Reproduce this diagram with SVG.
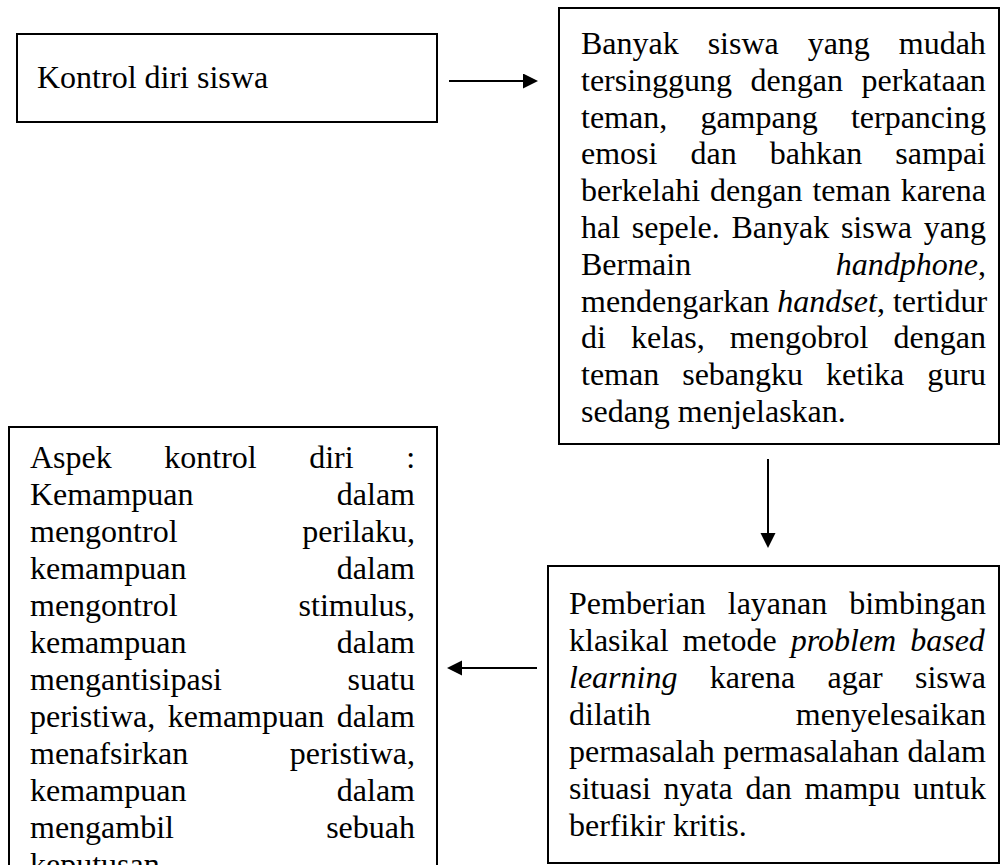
<svg xmlns="http://www.w3.org/2000/svg" width="1001" height="865" viewBox="0 0 1001 865">
<style>
.box{fill:#fff;stroke:#000;stroke-width:2}
.t{font-family:"Liberation Serif","Times New Roman",serif;font-size:32px;fill:#000}
.e{text-anchor:end}
.i{font-style:italic}
.c{stroke:#000;stroke-width:2;fill:none}
</style>
<defs>
<marker id="ah" markerUnits="userSpaceOnUse" markerWidth="16" markerHeight="16" refX="1" refY="7.5" orient="auto">
<path d="M0,0 L15,7.5 L0,15 Z" fill="#000"/>
</marker>
</defs>
<rect width="1001" height="865" fill="#fff"/>
<g id="node-kontrol">
<rect class="box" x="17" y="34" width="420" height="88"/>
<text class="t" x="37" y="88">Kontrol diri siswa</text>
</g>
<g id="node-masalah">
<rect class="box" x="559" y="8" width="440" height="436"/>
<text class="t" x="581" y="54" word-spacing="20.9">Banyak siswa yang mudah</text>
<text class="t" x="581" y="91" word-spacing="10.5">tersinggung dengan perkataan</text>
<text class="t" x="581" y="128" word-spacing="25.2">teman, gampang terpancing</text>
<text class="t" x="581" y="164" word-spacing="25.1">emosi dan bahkan sampai</text>
<text class="t" x="581" y="201" word-spacing="2">berkelahi dengan teman karena</text>
<text class="t" x="581" y="238" word-spacing="3.7">hal sepele. Banyak siswa yang</text>
<text class="t" x="581" y="275">Bermain</text>
<text class="t e" x="986" y="275"><tspan class="i">handphone</tspan>,</text>
<text class="t" x="581" y="312">mendengarkan <tspan class="i">handset</tspan>, tertidur</text>
<text class="t" x="581" y="348" word-spacing="17.1">di kelas, mengobrol dengan</text>
<text class="t" x="581" y="385" word-spacing="15">teman sebangku ketika guru</text>
<text class="t" x="581" y="422">sedang menjelaskan.</text>
</g>
<g id="node-layanan">
<rect class="box" x="548" y="566" width="451" height="297"/>
<text class="t" x="569" y="614" word-spacing="13.9">Pemberian layanan bimbingan</text>
<text class="t" x="569" y="651" word-spacing="6">klasikal metode <tspan class="i">problem based</tspan></text>
<text class="t" x="569" y="688" word-spacing="24.4"><tspan class="i">learning</tspan> karena agar siswa</text>
<text class="t" x="569" y="725">dilatih</text>
<text class="t e" x="986" y="725">menyelesaikan</text>
<text class="t" x="569" y="762" word-spacing="0.5">permasalah permasalahan dalam</text>
<text class="t" x="569" y="799" word-spacing="4.7">situasi nyata dan mampu untuk</text>
<text class="t" x="569" y="836">berfikir kritis.</text>
</g>
<g id="node-aspek">
<rect class="box" x="9" y="427" width="428" height="460"/>
<text class="t" x="30" y="468" word-spacing="44.5">Aspek kontrol diri :</text>
<text class="t" x="30" y="505">Kemampuan</text><text class="t e" x="415" y="505">dalam</text>
<text class="t" x="30" y="542">mengontrol</text><text class="t e" x="415" y="542">perilaku,</text>
<text class="t" x="30" y="579">kemampuan</text><text class="t e" x="415" y="579">dalam</text>
<text class="t" x="30" y="616">mengontrol</text><text class="t e" x="415" y="616">stimulus,</text>
<text class="t" x="30" y="653">kemampuan</text><text class="t e" x="415" y="653">dalam</text>
<text class="t" x="30" y="690">mengantisipasi</text><text class="t e" x="415" y="690">suatu</text>
<text class="t" x="30" y="727" word-spacing="4.5">peristiwa, kemampuan dalam</text>
<text class="t" x="30" y="764">menafsirkan</text><text class="t e" x="415" y="764">peristiwa,</text>
<text class="t" x="30" y="801">kemampuan</text><text class="t e" x="415" y="801">dalam</text>
<text class="t" x="30" y="838">mengambil</text><text class="t e" x="415" y="838">sebuah</text>
<text class="t" x="30" y="875">keputusan.</text>
</g>
<g id="connectors">
<line class="c" x1="449" y1="81" x2="524" y2="81" marker-end="url(#ah)"/>
<line class="c" x1="768" y1="459" x2="768" y2="534" marker-end="url(#ah)"/>
<line class="c" x1="537" y1="668" x2="461" y2="668" marker-end="url(#ah)"/>
</g>
</svg>
